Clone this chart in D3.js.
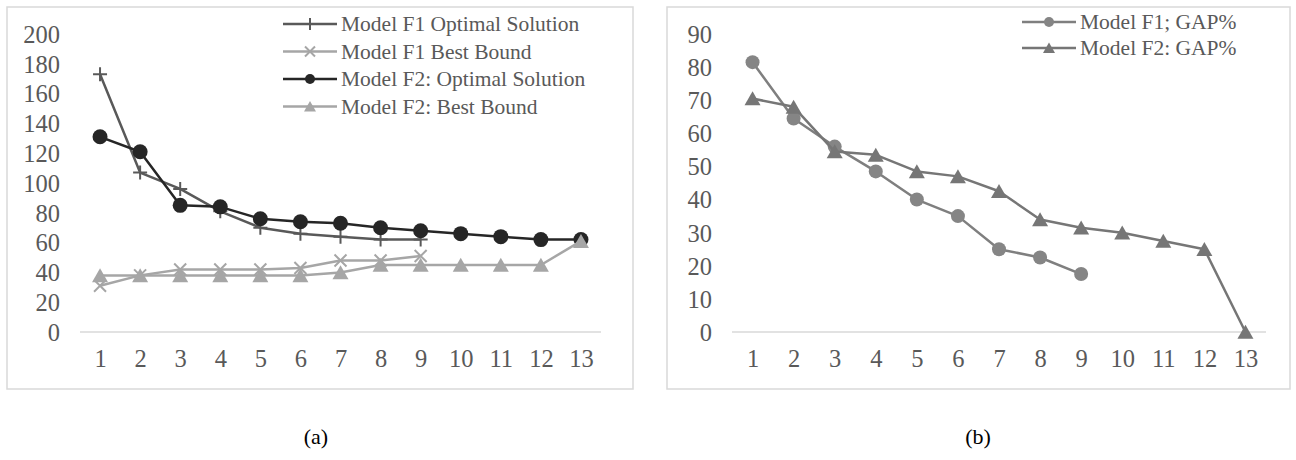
<!DOCTYPE html>
<html>
<head>
<meta charset="utf-8">
<script src="https://cdn.jsdelivr.net/npm/d3@7"></script>
<style>
  body { margin: 0; background: #fff; }
  svg { display: block; font-family: "Liberation Serif", "Times New Roman", serif; }
</style>
</head>
<body>
<svg id="chart" width="1296" height="460"></svg>
<script>
// categories (instances)
const instances = [1, 2, 3, 4, 5, 6, 7, 8, 9, 10, 11, 12, 13];

// panel (a) series
const f1Optimal = [173, 107, 96, 81, 70, 66, 64, 62, 62];
const f1Bound   = [31, 38, 42, 42, 42, 43, 48, 48, 51];
const f2Optimal = [131, 121, 85, 84, 76, 74, 73, 70, 68, 66, 64, 62, 62];
const f2Bound   = [38, 38, 38, 38, 38, 38, 40, 45, 45, 45, 45, 45, 61];

// panel (b) series
const f1Gap = [81.5, 64.5, 56, 48.5, 40, 35, 25, 22.5, 17.5];
const f2Gap = [70.5, 68, 54.5, 53.5, 48.5, 47, 42.5, 34, 31.5, 30, 27.5, 25, 0];

// tick labels
const ticksA = [0, 20, 40, 60, 80, 100, 120, 140, 160, 180, 200];
const ticksB = [0, 10, 20, 30, 40, 50, 60, 70, 80, 90];

const svg = d3.select('#chart');

// marker shapes
const markerPath = {
    plus: s => `M${-s},0H${s}M0,${-s}V${s}`,
    cross: s => `M${-s},${-s}L${s},${s}M${-s},${s}L${s},${-s}`,
    triangle: s => `M0,${-s * 0.9}L${s},${s * 0.85}L${-s},${s * 0.85}Z`
};

function drawMarker(g, type, size, color) {
    if (type === 'circle') {
        g.append('circle').attr('r', size).attr('fill', color);
    } else if (type === 'triangle') {
        g.append('path').attr('d', markerPath.triangle(size)).attr('fill', color);
    } else {
        g.append('path').attr('d', markerPath[type](size))
            .attr('stroke', color).attr('stroke-width', 2).attr('fill', 'none');
    }
}

function drawPanel(p) {
    const g = svg.append('g');

    g.append('rect')
        .attr('x', p.box[0]).attr('y', p.box[1])
        .attr('width', p.box[2]).attr('height', p.box[3])
        .attr('fill', '#fff').attr('stroke', '#d9d9d9').attr('stroke-width', 1.5);

    const x = d3.scalePoint().domain(instances).range([p.x0, p.x1]).padding(0.5);
    const y = d3.scaleLinear().domain([0, p.yMax]).range([p.yBottom, p.yTop]);

    // y axis labels (no line)
    const yAxis = g.append('g')
        .attr('transform', `translate(${p.x0 - 20},0)`)
        .call(d3.axisLeft(y).tickValues(p.ticks).tickSize(0).tickPadding(0));
    yAxis.select('.domain').remove();
    yAxis.selectAll('text')
        .attr('font-family', '"Liberation Serif", serif')
        .attr('font-size', 24.5).attr('fill', '#595959').attr('dy', '0.34em');

    // x axis
    const xAxis = g.append('g')
        .attr('transform', `translate(0,${p.yBottom})`)
        .call(d3.axisBottom(x).tickSize(0).tickPadding(0));
    xAxis.select('.domain').attr('stroke', '#d9d9d9').attr('stroke-width', 1.5)
        .attr('d', `M${p.x0},0H${p.x1}`);
    xAxis.selectAll('text')
        .attr('font-family', '"Liberation Serif", serif')
        .attr('font-size', 24.5).attr('fill', '#595959')
        .attr('y', 27).attr('dy', '0.34em');

    const line = d3.line().x((d, i) => x(instances[i])).y(d => y(d));

    p.series.forEach(s => {
        g.append('path')
            .datum(s.values)
            .attr('d', line)
            .attr('fill', 'none')
            .attr('stroke', s.color)
            .attr('stroke-width', 2.5)
            .attr('stroke-linejoin', 'round');

        g.append('g').selectAll('g')
            .data(s.values)
            .enter().append('g')
            .attr('transform', (d, i) => `translate(${x(instances[i])},${y(d)})`)
            .each(function () { drawMarker(d3.select(this), s.marker, s.size, s.markerColor || s.color); });
    });

    // legend
    const lg = g.append('g');
    p.series.forEach((s, i) => {
        const row = lg.append('g')
            .attr('transform', `translate(${p.legend.x},${p.legend.y + i * p.legend.step})`);
        row.append('line').attr('x1', 0).attr('x2', 54)
            .attr('stroke', s.color).attr('stroke-width', 2.5);
        const m = row.append('g').attr('transform', 'translate(27,0)');
        drawMarker(m, s.marker, s.legendSize, s.markerColor || s.color);
        row.append('text')
            .attr('x', 58).attr('dy', '0.34em')
            .attr('font-size', 21.5).attr('fill', '#595959')
            .text(s.name);
    });

    svg.append('text')
        .attr('x', p.caption[0]).attr('y', p.caption[1])
        .attr('text-anchor', 'middle').attr('dy', '0.34em')
        .attr('font-size', 22).attr('fill', '#000')
        .text(p.label);
}

drawPanel({
    box: [7, 7, 626, 382],
    x0: 80, x1: 601, yTop: 34, yBottom: 332, yMax: 200,
    ticks: ticksA,
    legend: { x: 283, y: 24, step: 27.5 },
    caption: [316, 437],
    label: '(a)',
    series: [
        { name: 'Model F1 Optimal Solution', values: f1Optimal, color: '#595959', marker: 'plus', size: 7, legendSize: 6 },
        { name: 'Model F1 Best Bound', values: f1Bound, color: '#a6a6a6', marker: 'cross', size: 6, legendSize: 5 },
        { name: 'Model F2: Optimal Solution', values: f2Optimal, color: '#262626', marker: 'circle', size: 7.5, legendSize: 5 },
        { name: 'Model F2: Best Bound', values: f2Bound, color: '#a6a6a6', marker: 'triangle', size: 8, legendSize: 6 }
    ]
});

drawPanel({
    box: [667, 7, 623, 382],
    x0: 732, x1: 1266, yTop: 34, yBottom: 332, yMax: 90,
    ticks: ticksB,
    legend: { x: 1022, y: 22, step: 26 },
    caption: [978, 437],
    label: '(b)',
    series: [
        { name: 'Model F1; GAP%', values: f1Gap, color: '#7f7f7f', markerColor: '#858585', marker: 'circle', size: 7, legendSize: 5 },
        { name: 'Model F2: GAP%', values: f2Gap, color: '#767676', marker: 'triangle', size: 8, legendSize: 6 }
    ]
});
</script>
</body>
</html>
